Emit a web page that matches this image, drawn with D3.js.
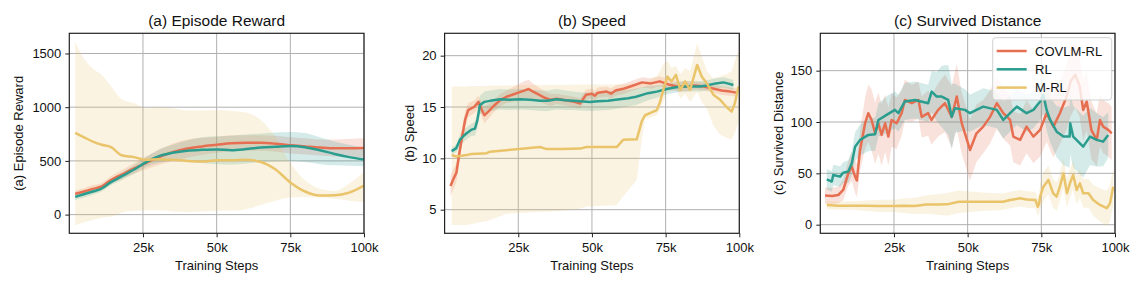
<!DOCTYPE html>
<html><head><meta charset="utf-8">
<script src="https://cdn.jsdelivr.net/npm/d3@7"></script>
<style>body{margin:0;background:#fff}svg{display:block;font-family:"Liberation Sans",Arial,Helvetica,sans-serif}</style>
</head><body><svg id="chart" width="1144" height="286"></svg>
<script>
// ---------------- data ----------------
const seriesNames = ["COVLM-RL", "RL", "M-RL"];
const panelTitles = ["(a) Episode Reward", "(b) Speed", "(c) Survived Distance"];
const xTickValues = [25000, 50000, 75000, 100000];
const yTicksA = [0, 500, 1000, 1500];
const yTicksB = [5, 10, 15, 20];
const yTicksC = [0, 50, 100, 150];

// (a) Episode Reward — steps in thousands
const stepsA = [2,5,8,11,14,18,22,26,30,35,40,45,50,55,60,65,70,75,80,85,90,95,100];
const rewardCovlm   = [195,215,240,262,320,375,430,480,530,580,615,635,650,665,668,668,660,645,635,625,618,618,620];
const rewardCovlmLo = [165,185,205,230,285,335,380,420,460,500,530,555,575,590,595,595,585,570,560,550,540,535,530];
const rewardCovlmHi = [225,245,275,295,355,415,480,540,600,660,700,715,725,740,740,740,735,720,710,700,700,705,710];
const rewardRl   = [165,190,215,243,300,360,420,487,540,575,595,603,607,600,610,625,632,638,628,600,565,535,512];
const rewardRlLo = [135,160,185,215,270,325,380,440,480,500,500,480,470,465,475,490,495,500,490,470,460,455,450];
const rewardRlHi = [195,220,245,275,330,395,460,535,600,650,690,720,730,735,745,755,765,770,760,720,680,650,620];
const rewardMrl   = [760,720,680,650,630,550,535,510,515,510,500,495,505,505,510,490,420,300,215,178,180,205,270];
const rewardMrlLo = [-100,-70,-50,-30,-20,20,35,40,40,30,25,30,35,35,50,90,130,160,165,160,150,130,115];
const rewardMrlHi = [1610,1450,1360,1300,1200,1070,1040,990,1000,990,970,970,975,965,950,880,720,480,320,240,220,290,400];

// (b) Speed
const stepsBCovlm = [2,3,4,5,6,7,8,10,11.5,12.5,13.5,15,17,19,21,23,25,27,28.5,30,32,34,36,38,40,42,44,46,48,50,51,52,55,56.5,58,61,64,67,70,73,76,79,82,85,88,91,94,97,99];
const speedCovlm = [7.3,8.0,8.6,10.5,12.2,13.8,14.7,15.0,15.5,14.8,14.2,14.6,15.2,15.7,16.0,16.2,16.4,16.6,16.75,16.5,16.2,15.9,15.7,15.8,15.7,15.6,15.5,15.35,16.2,16.3,16.1,16.4,16.5,16.3,16.6,16.8,17.1,17.4,17.3,17.5,17.2,17.0,17.0,17.1,17.0,16.8,16.6,16.5,16.4];
const speedCovlmSd = [1.0,1.0,0.9,0.9,0.8,0.8,0.7,0.6,0.6,0.7,0.8,0.7,0.6,0.6,0.6,0.7,0.8,0.9,0.9,0.8,0.7,0.6,0.6,0.5,0.5,0.5,0.5,0.5,0.5,0.5,0.5,0.5,0.5,0.5,0.5,0.5,0.5,0.5,0.5,0.5,0.5,0.5,0.5,0.4,0.4,0.4,0.4,0.4,0.4];
const stepsBRl = [2.4,4,5.2,6.5,7.5,9.2,10.3,11.1,12,13.5,15.4,18.8,22,25.6,29,32.4,35,38,41,43.7,46,49.3,52,55.5,58,62.3,65,69,72,75.4,78,81,84,86.7,89,92,94.6,96,98];
const speedRl = [10.7,11.0,11.8,12.2,12.45,12.8,12.9,13.7,15.2,15.5,15.6,15.75,15.7,15.75,15.7,15.6,15.6,15.75,15.65,15.6,15.55,15.5,15.55,15.6,15.7,15.85,16.0,16.35,16.5,16.75,16.9,17.0,17.0,17.0,17.1,17.3,17.4,17.3,17.15];
const speedRlSd = [0.3,0.4,0.5,0.6,0.6,0.6,0.7,0.8,0.9,1.0,1.0,1.0,1.0,1.0,1.0,1.0,1.0,1.0,0.95,0.9,0.9,0.9,0.9,0.9,0.9,0.8,0.8,0.7,0.6,0.5,0.5,0.5,0.5,0.5,0.5,0.5,0.5,0.5,0.5];
const stepsBMrl = [2.4,4.1,7.5,9.2,14.3,15.4,21,27,32.4,34.6,40,46,48.2,52,58.4,60.6,65.2,66.9,68,72,73.1,74.2,75.6,77,78.5,80,81.6,83.3,85.7,87.2,89,91.2,93.5,95.7,97.4,98.5,99.7];
const speedMrl   = [10.33,10.17,10.33,10.43,10.5,10.65,10.8,10.95,11.1,10.9,10.9,10.95,11.1,11.1,11.1,11.8,11.85,13.6,14.2,14.7,15.5,16.67,17.96,17.5,18.13,16.67,17.5,16.67,19.1,18.0,17.3,16.2,15.7,15.0,14.55,15.37,17.0];
const speedMrlLo = [3.5,3.5,3.5,3.6,3.9,4.0,4.6,4.7,4.8,4.8,4.9,5.1,5.3,5.35,5.45,6.3,7.9,11.8,13.8,14.2,14.8,15.5,16.5,16.5,16.8,15.8,16.3,15.5,16.5,15.5,14.8,13.2,12.3,12.0,11.8,12.5,13.5];
const speedMrlHi = [17.0,17.0,17.0,17.05,17.05,17.1,17.1,17.15,17.15,17.15,17.15,17.2,17.2,17.2,17.2,17.2,17.3,17.3,17.4,18.0,18.5,19.2,19.5,18.8,19.0,18.2,18.8,18.5,21.2,20.0,18.5,17.8,18.0,18.2,18.5,19.5,20.6];

// (c) Survived Distance
const stepsCCovlm = [1.6,4,6.1,7.8,9.5,10.7,11.8,12.4,13.5,15.2,16.3,17.4,18.6,19.7,20.8,22,23.1,24.2,25.9,27.6,28.7,31,33.3,34.4,36.6,37.7,40,42.3,44.6,46.3,48,49.5,50.8,53,55.3,57.6,59.9,62.1,64.4,65.5,67.8,70,72.3,74.6,76.8,79.1,81.3,83.6,85,86.5,88,89.2,90.4,92,93.8,94.9,96,97.7,98.9];
const distCovlm = [28.3,28,28.9,33.8,50,56.5,46.8,43,72.8,98.8,108.6,102,89,98.8,87.4,98.8,85.8,102,98.8,108.6,121.5,118.3,121.5,105,108.6,102,111.8,118.3,105,124.8,98.8,85,72.8,89,95.5,105,118.3,108.6,102,85.8,82.6,95.5,85.8,92.3,108.6,95.5,108.6,124.8,140,146,135,111.8,120,92,82.6,102,95.5,92.3,89];
const distCovlmSd = [8,8,8,10,12,14,16,16,20,25,28,30,30,30,30,28,28,26,25,22,20,18,18,20,22,24,26,28,30,32,30,30,30,28,26,26,25,25,25,25,25,26,26,26,28,30,30,32,34,32,30,30,28,28,26,26,26,26,26];
const stepsCRl = [2.2,3.9,4.4,6.7,7.8,9.5,10.7,11.8,13.5,16.3,18.6,19.7,22.5,25.3,26.5,28.7,32.1,36.6,37.8,39.5,41.2,43.4,44.6,45.7,49.1,50.8,53,55.3,59.9,62.1,64.4,66.7,70,72.3,74.6,75.7,76.8,78,80.2,82.5,84.6,84.8,85.8,89.2,91.5,93.8,96,97.7];
const distRl = [44.2,42,48.4,46.8,50.7,51.7,59.8,76,82.6,87.4,88.1,102,107,111.8,108.6,120,121.5,118.3,129.6,124.8,124.8,121.5,105,113.4,111.8,108.6,111.8,115,111.8,102,108.6,115,108.6,111.8,120,126.4,111.8,102,90.6,85.8,85.8,98.8,85.8,76,85.8,82.6,80.9,87.4];
const distRlSd = [10,10,10,10,10,11,12,14,15,16,16,16,18,18,18,18,18,18,20,24,30,34,32,24,20,18,18,18,18,18,18,18,18,18,18,18,20,22,25,28,30,30,30,30,28,26,24,22];
const stepsCMrl = [2.2,6,10,15,20,25,28,32,36,40,43,47,50.8,55,62,64.4,67.8,70,73,73.8,74.2,74.6,75.7,77.4,79,80.2,81.3,82.5,83.7,84.7,85.8,87,88.1,89.2,91,92.6,94.9,97.2,98.3,99.4];
const distMrl = [19.2,18.5,18.5,18.5,18.3,18.3,18.5,18.3,19.6,19.6,19.8,22.4,22.4,22.4,22.4,24,25.7,24.5,24,17.5,20,27.3,37,43.6,30.6,27.3,37,50,30.6,40.3,48.4,33.8,40.3,30.6,30.6,24,19.2,16,20.8,37];
const distMrlSd = [4,4,4,5,6,6,7,8,9,10,11,11,10,9,8,8,8,8,8,8,10,12,14,14,14,14,14,14,14,14,14,14,14,14,14,15,16,17,18,18];

// ---------------- styles / layout ----------------
const colors = ["#e76f51", "#2a9d8f", "#e9c46a"];

function mk(xs, m, lo, hi) {
  return xs.map((x, i) => ({x: x * 1000, m: m[i], lo: lo[i], hi: hi[i]}));
}
function mkSd(xs, m, sd) {
  return xs.map((x, i) => ({x: x * 1000, m: m[i], lo: m[i] - sd[i], hi: m[i] + sd[i]}));
}

const panels = [
  {title: panelTitles[0], ylabel: panelTitles[0], left: 69.3, right: 364, top: 33.3, bottom: 233.3,
   ydom: [-174, 1688], yticks: yTicksA, curve: d3.curveMonotoneX, ylabX: 18.5,
   series: [mk(stepsA, rewardCovlm, rewardCovlmLo, rewardCovlmHi),
            mk(stepsA, rewardRl, rewardRlLo, rewardRlHi),
            mk(stepsA, rewardMrl, rewardMrlLo, rewardMrlHi)]},
  {title: panelTitles[1], ylabel: panelTitles[1], left: 444.6, right: 739.3, top: 33.3, bottom: 233.3,
   ydom: [2.70, 22.18], yticks: yTicksB, curve: d3.curveLinear, ylabX: 409.5,
   series: [mkSd(stepsBCovlm, speedCovlm, speedCovlmSd),
            mkSd(stepsBRl, speedRl, speedRlSd),
            mk(stepsBMrl, speedMrl, speedMrlLo, speedMrlHi)]},
  {title: panelTitles[2], ylabel: panelTitles[2], left: 820.3, right: 1115, top: 33.3, bottom: 233.3,
   ydom: [-8.4, 186.4], yticks: yTicksC, curve: d3.curveLinear, ylabX: 778.5, legend: true,
   series: [mkSd(stepsCCovlm, distCovlm, distCovlmSd),
            mkSd(stepsCRl, distRl, distRlSd),
            mkSd(stepsCMrl, distMrl, distMrlSd)]}
];

const svg = d3.select("#chart");
const FONT = '"Liberation Sans",Arial,Helvetica,sans-serif';

panels.forEach(p => {
  const x = d3.scaleLinear().domain([0, 100000]).range([p.left, p.right]);
  const y = d3.scaleLinear().domain(p.ydom).range([p.bottom, p.top]);
  const g = svg.append("g");

  // grid
  g.append("g").selectAll("line").data(xTickValues).join("line")
    .attr("x1", d => x(d)).attr("x2", d => x(d)).attr("y1", p.top).attr("y2", p.bottom)
    .attr("stroke", "#b0b0b0").attr("stroke-width", 1);
  g.append("g").selectAll("line").data(p.yticks).join("line")
    .attr("x1", p.left).attr("x2", p.right).attr("y1", d => y(d)).attr("y2", d => y(d))
    .attr("stroke", "#b0b0b0").attr("stroke-width", 1);

  const clipId = "clip" + p.left.toFixed(0);
  g.append("clipPath").attr("id", clipId).append("rect")
    .attr("x", p.left).attr("y", p.top).attr("width", p.right - p.left).attr("height", p.bottom - p.top);
  const plot = g.append("g").attr("clip-path", `url(#${clipId})`);

  const area = d3.area().x(d => x(d.x)).y0(d => y(d.lo)).y1(d => y(d.hi)).curve(p.curve);
  const line = d3.line().x(d => x(d.x)).y(d => y(d.m)).curve(p.curve);

  p.series.forEach((s, i) => {
    plot.append("path").datum(s).attr("d", area).attr("fill", colors[i]).attr("fill-opacity", 0.2);
  });
  p.series.forEach((s, i) => {
    plot.append("path").datum(s).attr("d", line).attr("fill", "none")
      .attr("stroke", colors[i]).attr("stroke-width", 2.5).attr("stroke-linejoin", "round");
  });

  // axes
  const xAxis = d3.axisBottom(x).tickValues(xTickValues).tickFormat(d => (d / 1000) + "k").tickSize(4).tickPadding(5);
  const yAxis = d3.axisLeft(y).tickValues(p.yticks).tickFormat(d3.format("d")).tickSize(4).tickPadding(4);
  const gx = g.append("g").attr("transform", `translate(0,${p.bottom})`).call(xAxis);
  const gy = g.append("g").attr("transform", `translate(${p.left},0)`).call(yAxis);
  [gx, gy].forEach(a => {
    a.select(".domain").remove();
    a.selectAll(".tick line").attr("stroke", "#222").attr("stroke-width", 1);
    a.selectAll(".tick text").attr("font-size", 13).attr("fill", "#111").attr("font-family", FONT);
  });

  // frame
  g.append("rect").attr("x", p.left).attr("y", p.top).attr("width", p.right - p.left).attr("height", p.bottom - p.top)
    .attr("fill", "none").attr("stroke", "#222").attr("stroke-width", 1.2);

  // texts
  g.append("text").attr("x", (p.left + p.right) / 2).attr("y", 26).attr("text-anchor", "middle")
    .attr("font-size", 15.5).attr("fill", "#111").text(p.title);
  g.append("text").attr("x", (p.left + p.right) / 2).attr("y", 270).attr("text-anchor", "middle")
    .attr("font-size", 13).attr("fill", "#111").text("Training Steps");
  g.append("text").attr("transform", `translate(${p.ylabX},${(p.top + p.bottom) / 2}) rotate(-90)`)
    .attr("text-anchor", "middle").attr("dy", "0.35em").attr("font-size", 13).attr("fill", "#111").text(p.ylabel);

  if (p.legend) {
    const lg = g.append("g");
    lg.append("rect").attr("x", 992.7).attr("y", 37.7).attr("width", 119).attr("height", 62.3)
      .attr("rx", 3).attr("fill", "#fff").attr("fill-opacity", 0.8).attr("stroke", "#d0d0d0").attr("stroke-width", 1);
    seriesNames.forEach((n, i) => {
      const yy = 51 + i * 18.3;
      lg.append("line").attr("x1", 996.7).attr("x2", 1026.7).attr("y1", yy).attr("y2", yy)
        .attr("stroke", colors[i]).attr("stroke-width", 2.5);
      lg.append("text").attr("x", 1035).attr("y", yy).attr("dy", "0.35em").attr("font-size", 13)
        .attr("fill", "#111").text(n);
    });
  }
});
</script></body></html>
